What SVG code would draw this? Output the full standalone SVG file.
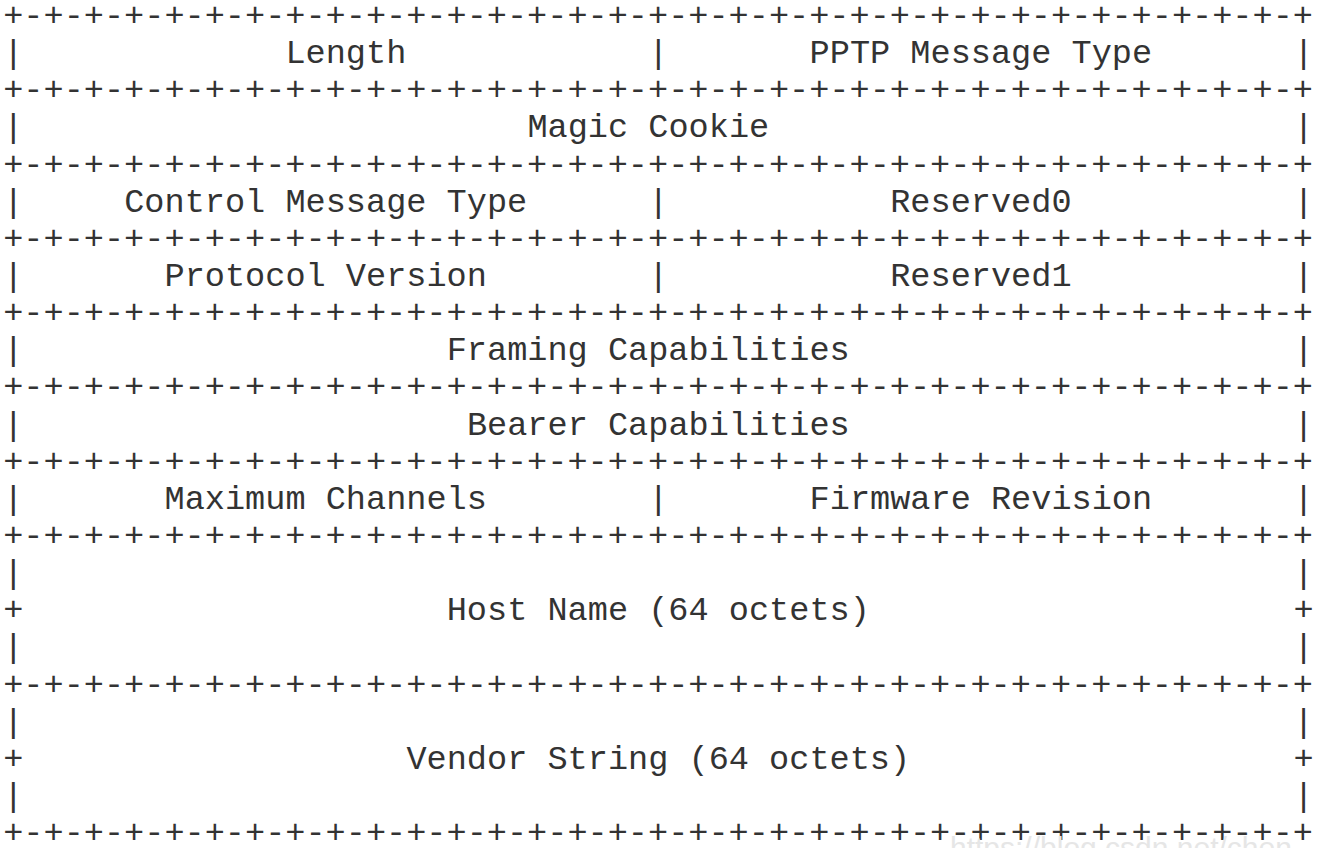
<svg xmlns="http://www.w3.org/2000/svg" width="1324" height="848" viewBox="0 0 1324 848">
<style>
text{font-family:"Liberation Mono","Courier New",monospace;font-size:33.6px;fill:#333;white-space:pre}
.wm{fill:#e6e6e6;font-family:"Liberation Sans",Arial,sans-serif;font-size:30px}
</style>
<rect width="1324" height="848" fill="#fff"/>
<g id="separators">
<text x="3.2" y="26">+-+-+-+-+-+-+-+-+-+-+-+-+-+-+-+-+-+-+-+-+-+-+-+-+-+-+-+-+-+-+-+-+</text>
<text x="3.2" y="100.3">+-+-+-+-+-+-+-+-+-+-+-+-+-+-+-+-+-+-+-+-+-+-+-+-+-+-+-+-+-+-+-+-+</text>
<text x="3.2" y="174.6">+-+-+-+-+-+-+-+-+-+-+-+-+-+-+-+-+-+-+-+-+-+-+-+-+-+-+-+-+-+-+-+-+</text>
<text x="3.2" y="248.8">+-+-+-+-+-+-+-+-+-+-+-+-+-+-+-+-+-+-+-+-+-+-+-+-+-+-+-+-+-+-+-+-+</text>
<text x="3.2" y="323.1">+-+-+-+-+-+-+-+-+-+-+-+-+-+-+-+-+-+-+-+-+-+-+-+-+-+-+-+-+-+-+-+-+</text>
<text x="3.2" y="397.4">+-+-+-+-+-+-+-+-+-+-+-+-+-+-+-+-+-+-+-+-+-+-+-+-+-+-+-+-+-+-+-+-+</text>
<text x="3.2" y="471.7">+-+-+-+-+-+-+-+-+-+-+-+-+-+-+-+-+-+-+-+-+-+-+-+-+-+-+-+-+-+-+-+-+</text>
<text x="3.2" y="546">+-+-+-+-+-+-+-+-+-+-+-+-+-+-+-+-+-+-+-+-+-+-+-+-+-+-+-+-+-+-+-+-+</text>
<text x="3.2" y="694.5">+-+-+-+-+-+-+-+-+-+-+-+-+-+-+-+-+-+-+-+-+-+-+-+-+-+-+-+-+-+-+-+-+</text>
<text x="3.2" y="843">+-+-+-+-+-+-+-+-+-+-+-+-+-+-+-+-+-+-+-+-+-+-+-+-+-+-+-+-+-+-+-+-+</text>
</g>
<g id="borders">
<text x="3.2" y="63.1">|</text><text x="648.3" y="63.1">|</text><text x="1293.4" y="63.1">|</text>
<text x="3.2" y="137.4">|</text><text x="1293.4" y="137.4">|</text>
<text x="3.2" y="211.7">|</text><text x="648.3" y="211.7">|</text><text x="1293.4" y="211.7">|</text>
<text x="3.2" y="286">|</text><text x="648.3" y="286">|</text><text x="1293.4" y="286">|</text>
<text x="3.2" y="360.3">|</text><text x="1293.4" y="360.3">|</text>
<text x="3.2" y="434.5">|</text><text x="1293.4" y="434.5">|</text>
<text x="3.2" y="508.8">|</text><text x="648.3" y="508.8">|</text><text x="1293.4" y="508.8">|</text>
<text x="3.2" y="583.1">|</text><text x="1293.4" y="583.1">|</text>
<text x="3.2" y="620.2">+</text><text x="1293.4" y="620.2">+</text>
<text x="3.2" y="657.4">|</text><text x="1293.4" y="657.4">|</text>
<text x="3.2" y="731.6">|</text><text x="1293.4" y="731.6">|</text>
<text x="3.2" y="768.8">+</text><text x="1293.4" y="768.8">+</text>
<text x="3.2" y="805.9">|</text><text x="1293.4" y="805.9">|</text>
</g>
<g id="length"><text x="285.4" y="63.1">Length</text></g>
<g id="pptp-message-type"><text x="809.6" y="63.1">PPTP Message Type</text></g>
<g id="magic-cookie"><text x="527.4" y="137.4">Magic Cookie</text></g>
<g id="control-message-type"><text x="124.2" y="211.7">Control Message Type</text></g>
<g id="reserved0"><text x="890.2" y="211.7">Reserved0</text></g>
<g id="protocol-version"><text x="164.5" y="286">Protocol Version</text></g>
<g id="reserved1"><text x="890.2" y="286">Reserved1</text></g>
<g id="framing-capabilities"><text x="446.7" y="360.3">Framing Capabilities</text></g>
<g id="bearer-capabilities"><text x="466.9" y="434.5">Bearer Capabilities</text></g>
<g id="maximum-channels"><text x="164.5" y="508.8">Maximum Channels</text></g>
<g id="firmware-revision"><text x="809.6" y="508.8">Firmware Revision</text></g>
<g id="host-name"><text x="446.7" y="620.2">Host Name (64 octets)</text></g>
<g id="vendor-string"><text x="406.4" y="768.8">Vendor String (64 octets)</text></g>
<text class="wm" x="950" y="858">https://blog.csdn.net/chen</text>
</svg>
